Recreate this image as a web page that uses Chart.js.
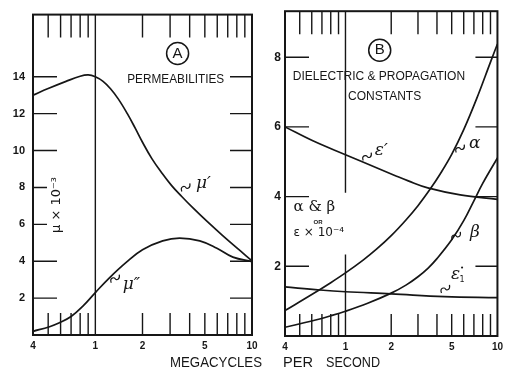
<!DOCTYPE html>
<html lang="en">
<head>
<meta charset="UTF-8">
<title>Permeabilities and dielectric constants</title>
<style>
  body { margin: 0; background: #fff; }
  #wrap { position: relative; width: 508px; height: 376px; }
  #wrap canvas { position: absolute; left: 0; top: 0; }
</style>
</head>
<body>
<div id="wrap">
  <canvas id="chartA" width="508" height="376"></canvas>
  <canvas id="chartB" width="508" height="376"></canvas>
</div>
<script src="https://cdn.jsdelivr.net/npm/chart.js"></script>
<script>
// axis ticks (megacycles per second, log scale)
const xTicks = [0.4, 1, 2, 5, 10];
const xTickLabels = ['4', '1', '2', '5', '10'];
const xMinor = [0.5, 0.6, 0.7, 0.8, 0.9, 2, 3, 4, 5, 6, 7, 8, 9];
const yTicksA = [2, 4, 6, 8, 10, 12, 14];
const yTicksB = [2, 4, 6, 8];

// panel A: permeabilities (x 10^-3)
const muRealX = [0.4, 0.5, 0.65, 0.8, 0.9, 1.0, 1.12, 1.25, 1.4, 1.6, 1.8, 2.0, 2.3, 2.65, 3.07, 3.56, 4.2, 5.15, 6.5, 8.4, 10];
const muRealY = [13.0, 13.36, 13.75, 14.03, 14.1, 14.0, 13.75, 13.35, 12.8, 12.0, 11.2, 10.45, 9.55, 8.8, 8.1, 7.51, 6.89, 6.17, 5.39, 4.57, 4.02];
const muImagX = [0.4, 0.51, 0.59, 0.70, 0.83, 1.0, 1.23, 1.58, 2.0, 2.69, 3.45, 4.64, 5.97, 7.55, 10];
const muImagY = [0.2, 0.45, 0.66, 1.0, 1.55, 2.3, 3.1, 3.95, 4.62, 5.1, 5.25, 5.1, 4.7, 4.22, 3.98];

// panel B: dielectric & propagation constants
const epsRealX = [0.4, 0.61, 1.0, 1.29, 2.13, 2.59, 3.48, 5.69, 10];
const epsRealY = [6.0, 5.6, 5.2, 5.0, 4.6, 4.45, 4.25, 4.05, 3.92];
const alphaX = [0.4, 0.6, 0.8, 1.0, 1.3, 1.6, 2.0, 2.5, 3.0, 3.6, 4.2, 5.0, 6.0, 7.3, 9.0, 10];
const alphaY = [0.73, 1.19, 1.53, 1.81, 2.17, 2.49, 2.88, 3.33, 3.74, 4.21, 4.65, 5.21, 5.92, 6.81, 7.86, 8.38];
const betaX = [0.4, 0.6, 0.8, 1.0, 1.4, 2.0, 2.5, 3.0, 3.5, 4.0, 5.0, 6.0, 7.0, 8.0, 10];
const betaY = [0.25, 0.43, 0.58, 0.71, 0.94, 1.23, 1.46, 1.70, 1.95, 2.22, 2.76, 3.31, 3.88, 4.38, 5.11];
const epsImagX = [0.4, 0.68, 1.0, 2.0, 4.48, 10];
const epsImagY = [1.41, 1.32, 1.27, 1.21, 1.13, 1.1];

const INK = '#161616';

// frame, inward tick marks, the 1 Mc line and the lettering
const deco = {
  id: 'deco',
  afterDraw(chart, args, o) {
    const { ctx, chartArea: a, scales: { x, y } } = chart;
    ctx.save();
    ctx.strokeStyle = INK;
    ctx.fillStyle = INK;
    ctx.lineWidth = 2;
    ctx.strokeRect(a.left, a.top, a.right - a.left, a.bottom - a.top);

    ctx.lineWidth = 1.4;
    ctx.beginPath();
    o.yTicks.forEach(v => {
      const py = y.getPixelForValue(v);
      const len = (o.shortLeft || []).includes(v) ? 14 : 24;
      ctx.moveTo(a.left, py); ctx.lineTo(a.left + len, py);
      ctx.moveTo(a.right - 22, py); ctx.lineTo(a.right, py);
    });
    xMinor.forEach(v => {
      const px = x.getPixelForValue(v);
      ctx.moveTo(px, a.top); ctx.lineTo(px, a.top + 23);
      ctx.moveTo(px, a.bottom - 22); ctx.lineTo(px, a.bottom);
    });
    const p1 = x.getPixelForValue(1);
    if (o.gap) {
      ctx.moveTo(p1, a.top); ctx.lineTo(p1, y.getPixelForValue(o.gap[0]));
      ctx.moveTo(p1, y.getPixelForValue(o.gap[1])); ctx.lineTo(p1, a.bottom);
    } else {
      ctx.moveTo(p1, a.top); ctx.lineTo(p1, a.bottom);
    }
    ctx.stroke();

    ctx.textBaseline = 'middle';
    (o.texts || []).forEach(it => {
      const px = x.getPixelForValue(it.x), py = y.getPixelForValue(it.y);
      if (it.circle) {
        ctx.lineWidth = 1.5;
        ctx.beginPath(); ctx.arc(px, py, it.r, 0, Math.PI * 2); ctx.stroke();
      }
      if (it.squig) {
        ctx.lineWidth = 1.2;
        ctx.beginPath();
        ctx.moveTo(px - 4, py + 4);
        ctx.bezierCurveTo(px - 6, py - 1, px - 1, py - 2, px, py);
        ctx.bezierCurveTo(px + 1, py + 2, px + 5, py + 1, px + 4, py - 4);
        ctx.stroke();
        return;
      }
      ctx.save();
      ctx.translate(px, py);
      if (it.rot) ctx.rotate(it.rot);
      ctx.font = it.font;
      ctx.textAlign = it.align || 'center';
      if (it.w) ctx.fillText(it.t, 0, 0, it.w); else ctx.fillText(it.t, 0, 0);
      ctx.restore();
    });

    (o.title || []).forEach(it => {
      ctx.font = '15px "Liberation Sans"';
      ctx.textAlign = 'center';
      ctx.fillText(it.t, it.px, it.py, it.w);
    });
    ctx.restore();
  }
};

function series(xs, ys) {
  return {
    data: xs.map((v, i) => ({ x: v, y: ys[i] })),
    borderColor: INK,
    borderWidth: 1.7,
    pointRadius: 0,
    fill: false,
    tension: 0.4
  };
}

function panel(id, p) {
  return new Chart(document.getElementById(id), {
    type: 'line',
    data: { datasets: p.datasets },
    options: {
      responsive: false,
      animation: false,
      events: [],
      layout: { autoPadding: false, padding: { left: p.padL, right: p.padR, top: 5, bottom: 0 } },
      plugins: { legend: { display: false }, tooltip: { enabled: false }, deco: p.deco },
      scales: {
        x: {
          type: 'logarithmic', min: 0.4, max: 10,
          grid: { display: false, drawTicks: false },
          border: { display: false },
          afterBuildTicks: s => { s.ticks = xTicks.map(v => ({ value: v })); },
          afterFit: s => { s.height = p.xH; },
          ticks: {
            autoSkip: false, maxRotation: 0, padding: 5, color: INK,
            font: { family: 'Liberation Sans', size: 10, weight: 'bold' },
            callback: v => xTickLabels[xTicks.indexOf(v)]
          }
        },
        y: {
          min: 0, max: p.yMax,
          grid: { display: false, drawTicks: false },
          border: { display: false },
          afterBuildTicks: s => { s.ticks = p.yTicks.map(v => ({ value: v })); },
          afterFit: s => { s.width = 33; },
          ticks: {
            padding: p.yPad, color: INK,
            font: { family: 'Liberation Sans', size: p.yFont, weight: 'bold' }
          }
        }
      }
    },
    plugins: [deco]
  });
}

const greek = 'italic 17px "DejaVu Serif"';

panel('chartA', {
  padL: 0, padR: 256, xH: 41, yMax: 17.37, yTicks: yTicksA, yPad: 8, yFont: 11,
  datasets: [series(muRealX, muRealY), series(muImagX, muImagY)],
  deco: {
    yTicks: yTicksA, shortLeft: [6, 8],
    texts: [
      { circle: true, r: 11, x: 3.35, y: 15.26, t: 'A', font: '15px "Liberation Sans"' },
      { x: 3.26, y: 13.84, t: 'PERMEABILITIES', font: '12px "Liberation Sans"', w: 97 },
      { x: 0.57, y: 7.05, t: 'μ × 10⁻³', font: '13px "DejaVu Sans"', rot: -Math.PI / 2, w: 58 },
      { x: 4.9, y: 8.2, t: 'μ′', font: greek },
      { squig: true, x: 3.78, y: 8.0 },
      { x: 1.7, y: 2.75, t: 'μ″', font: greek },
      { squig: true, x: 1.34, y: 3.05 }
    ]
  }
});

panel('chartB', {
  padL: 252, padR: 4, xH: 40, yMax: 9.32, yTicks: yTicksB, yPad: 4, yFont: 12,
  datasets: [series(epsRealX, epsRealY), series(alphaX, alphaY), series(betaX, betaY), series(epsImagX, epsImagY)],
  deco: {
    yTicks: yTicksB, gap: [4.11, 2.34],
    texts: [
      { circle: true, r: 11, x: 1.68, y: 8.2, t: 'B', font: '15px "Liberation Sans"' },
      { x: 1.66, y: 7.44, t: 'DIELECTRIC & PROPAGATION', font: '12px "Liberation Sans"', w: 181 },
      { x: 1.81, y: 6.87, t: 'CONSTANTS', font: '12px "Liberation Sans"', w: 80 },
      { x: 0.455, y: 3.69, t: 'α & β', font: '15px "DejaVu Serif"', align: 'left', w: 52 },
      { x: 0.66, y: 3.27, t: 'OR', font: 'bold 6px "Liberation Sans"' },
      { x: 0.455, y: 2.96, t: 'ε × 10⁻⁴', font: '12px "DejaVu Sans"', align: 'left', w: 58 },
      { x: 1.72, y: 5.32, t: 'ε′', font: greek },
      { squig: true, x: 1.39, y: 5.15 },
      { x: 7.1, y: 5.52, t: 'α', font: greek },
      { squig: true, x: 5.69, y: 5.38 },
      { x: 7.1, y: 2.96, t: 'β', font: greek },
      { squig: true, x: 5.36, y: 2.87 },
      { x: 5.3, y: 1.75, t: 'ε', font: greek },
      { x: 5.85, y: 1.95, t: '•', font: '7px "DejaVu Sans"' },
      { x: 5.85, y: 1.6, t: '1', font: '8px "DejaVu Sans"' },
      { squig: true, x: 4.55, y: 1.35 }
    ],
    title: [
      { t: 'MEGACYCLES', px: 216, py: 363, w: 92 },
      { t: 'PER', px: 298, py: 363, w: 30 },
      { t: 'SECOND', px: 353, py: 363, w: 54 }
    ]
  }
});
</script>
</body>
</html>
